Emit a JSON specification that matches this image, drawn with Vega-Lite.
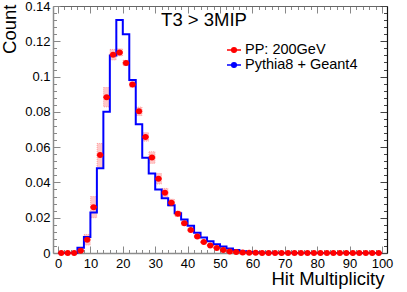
{
  "$schema": "https://vega.github.io/schema/vega-lite/v6.json",
  "width": 334,
  "height": 247,
  "autosize": "none",
  "padding": {"left": 53, "top": 6, "right": 20, "bottom": 39},
  "background": "white",
  "title": {"text": "T3 > 3MIP", "orient": "top", "anchor": "middle", "frame": "group", "offset": -44, "baseline": "alphabetic", "dx": -16, "font": "Liberation Sans", "fontSize": 18.5, "fontWeight": "normal", "color": "black"},
  "config": {
    "view": {"stroke": null},
    "axis": {"grid": false, "labelFont": "Liberation Sans", "titleFont": "Liberation Sans", "labelColor": "black", "titleColor": "black", "tickColor": "#888", "domainColor": "#8c8c8c", "domainWidth": 1.5, "titleFontWeight": "normal"}
  },
  "datasets": {
    "mc": [
      {"x": 0, "y": 0}, {"x": 2, "y": 0}, {"x": 4, "y": 0}, {"x": 6, "y": 0.003}, {"x": 8, "y": 0.009},
      {"x": 10, "y": 0.023}, {"x": 12, "y": 0.048}, {"x": 14, "y": 0.080}, {"x": 16, "y": 0.112}, {"x": 18, "y": 0.132},
      {"x": 20, "y": 0.124}, {"x": 22, "y": 0.098}, {"x": 24, "y": 0.073}, {"x": 26, "y": 0.054}, {"x": 28, "y": 0.045},
      {"x": 30, "y": 0.036}, {"x": 32, "y": 0.031}, {"x": 34, "y": 0.027}, {"x": 36, "y": 0.0225}, {"x": 38, "y": 0.019},
      {"x": 40, "y": 0.0155}, {"x": 42, "y": 0.0115}, {"x": 44, "y": 0.0088}, {"x": 46, "y": 0.0066}, {"x": 48, "y": 0.005},
      {"x": 50, "y": 0.0037}, {"x": 52, "y": 0.0026}, {"x": 54, "y": 0.0017}, {"x": 56, "y": 0.001}, {"x": 58, "y": 0.0006},
      {"x": 60, "y": 0.0004}, {"x": 62, "y": 0.0002}, {"x": 64, "y": 0.0001}, {"x": 66, "y": 0}, {"x": 68, "y": 0},
      {"x": 70, "y": 0}, {"x": 72, "y": 0}, {"x": 74, "y": 0}, {"x": 76, "y": 0}, {"x": 78, "y": 0},
      {"x": 80, "y": 0}, {"x": 82, "y": 0}, {"x": 84, "y": 0}, {"x": 86, "y": 0}, {"x": 88, "y": 0},
      {"x": 90, "y": 0}, {"x": 92, "y": 0}, {"x": 94, "y": 0}, {"x": 96, "y": 0}, {"x": 98, "y": 0},
      {"x": 100, "y": 0}
    ],
    "pp": [
      {"x": 1, "y": 0, "lo": 0, "hi": 0},
      {"x": 3, "y": 0, "lo": 0, "hi": 0},
      {"x": 5, "y": 0, "lo": 0, "hi": 0},
      {"x": 7, "y": 0.0013, "lo": 0.0005, "hi": 0.0021},
      {"x": 9, "y": 0.0075, "lo": 0.0045, "hi": 0.0105},
      {"x": 11, "y": 0.026, "lo": 0.020, "hi": 0.032},
      {"x": 13, "y": 0.0555, "lo": 0.0489, "hi": 0.0621},
      {"x": 15, "y": 0.0883, "lo": 0.0828, "hi": 0.0938},
      {"x": 17, "y": 0.1124, "lo": 0.1094, "hi": 0.1154},
      {"x": 19, "y": 0.1137, "lo": 0.1117, "hi": 0.1157},
      {"x": 21, "y": 0.1077, "lo": 0.1062, "hi": 0.1092},
      {"x": 23, "y": 0.0955, "lo": 0.094, "hi": 0.097},
      {"x": 25, "y": 0.0803, "lo": 0.0779, "hi": 0.0827},
      {"x": 27, "y": 0.0658, "lo": 0.0634, "hi": 0.0682},
      {"x": 29, "y": 0.0541, "lo": 0.0508, "hi": 0.0574},
      {"x": 31, "y": 0.0421, "lo": 0.0391, "hi": 0.0451},
      {"x": 33, "y": 0.0342, "lo": 0.0318, "hi": 0.0366},
      {"x": 35, "y": 0.0285, "lo": 0.0265, "hi": 0.0305},
      {"x": 37, "y": 0.0222, "lo": 0.0207, "hi": 0.0237},
      {"x": 39, "y": 0.0169, "lo": 0.0157, "hi": 0.0181},
      {"x": 41, "y": 0.013, "lo": 0.012, "hi": 0.014},
      {"x": 43, "y": 0.0094, "lo": 0.0086, "hi": 0.0102},
      {"x": 45, "y": 0.0062, "lo": 0.0056, "hi": 0.0068},
      {"x": 47, "y": 0.0043, "lo": 0.0038, "hi": 0.0048},
      {"x": 49, "y": 0.0029, "lo": 0.0025, "hi": 0.0033},
      {"x": 51, "y": 0.0017, "lo": 0.0014, "hi": 0.002},
      {"x": 53, "y": 0.0009, "lo": 0.0007, "hi": 0.0011},
      {"x": 55, "y": 0.0005, "lo": 0.0004, "hi": 0.0006},
      {"x": 57, "y": 0.0003, "lo": 0.0002, "hi": 0.0004},
      {"x": 59, "y": 0.0002, "lo": 0.0001, "hi": 0.0003},
      {"x": 61, "y": 0.0001, "lo": 0.0001, "hi": 0.0001},
      {"x": 63, "y": 0, "lo": 0, "hi": 0},
      {"x": 65, "y": 0, "lo": 0, "hi": 0},
      {"x": 67, "y": 0, "lo": 0, "hi": 0},
      {"x": 69, "y": 0, "lo": 0, "hi": 0},
      {"x": 71, "y": 0, "lo": 0, "hi": 0},
      {"x": 73, "y": 0, "lo": 0, "hi": 0},
      {"x": 75, "y": 0, "lo": 0, "hi": 0},
      {"x": 77, "y": 0, "lo": 0, "hi": 0},
      {"x": 79, "y": 0, "lo": 0, "hi": 0},
      {"x": 81, "y": 0, "lo": 0, "hi": 0},
      {"x": 83, "y": 0, "lo": 0, "hi": 0},
      {"x": 85, "y": 0, "lo": 0, "hi": 0},
      {"x": 87, "y": 0, "lo": 0, "hi": 0},
      {"x": 89, "y": 0, "lo": 0, "hi": 0},
      {"x": 91, "y": 0, "lo": 0, "hi": 0},
      {"x": 93, "y": 0, "lo": 0, "hi": 0},
      {"x": 95, "y": 0, "lo": 0, "hi": 0},
      {"x": 97, "y": 0, "lo": 0, "hi": 0},
      {"x": 99, "y": 0, "lo": 0, "hi": 0}
    ]
  },
  "resolve": {"axis": {"x": "independent", "y": "independent"}},
  "layer": [
    {
      "data": {"name": "pp"},
      "mark": {"type": "bar", "width": 6, "fill": "#ff9a9a", "fillOpacity": 0.55, "stroke": "#ff7070", "strokeWidth": 0.8, "strokeDash": [1, 1], "strokeOpacity": 0.7},
      "encoding": {
        "x": {"field": "x", "type": "quantitative", "scale": {"domain": [0, 100], "nice": false},
              "axis": {"orient": "bottom", "values": [0,10,20,30,40,50,60,70,80,90,100], "ticks": false, "domain": false, "labelPadding": 4, "labelFontSize": 13, "labelBaseline": "top", "labelFlush": false,
                       "title": "Hit Multiplicity", "titleFontSize": 18.5, "titleAlign": "right", "titleBaseline": "alphabetic", "titleX": 331, "titleY": 31, "titleAnchor": "end"}},
        "y": {"field": "lo", "type": "quantitative", "scale": {"domain": [0, 0.14], "nice": false},
              "axis": {"orient": "left", "values": [0,0.02,0.04,0.06,0.08,0.1,0.12,0.14], "format": "~g", "ticks": false, "domain": false, "labelPadding": 3, "labelFontSize": 13, "labelFlush": false,
                       "title": "Count", "titleFontSize": 18.5, "titleAngle": -90, "titleAlign": "right", "titleBaseline": "alphabetic", "titleX": -38, "titleY": -2, "titleAnchor": "end"}},
        "y2": {"field": "hi"}
      }
    },
    {
      "data": {"name": "mc"},
      "mark": {"type": "line", "interpolate": "step-after", "strokeWidth": 2},
      "encoding": {
        "x": {"field": "x", "type": "quantitative", "scale": {"domain": [0, 100], "nice": false},
              "axis": {"orient": "bottom", "values": [0,2,4,6,8,10,12,14,16,18,20,22,24,26,28,30,32,34,36,38,40,42,44,46,48,50,52,54,56,58,60,62,64,66,68,70,72,74,76,78,80,82,84,86,88,90,92,94,96,98,100],
                       "labels": false, "domain": true, "title": null,
                       "tickSize": {"condition": {"test": "datum.value % 10 === 0", "value": -7}, "value": -3.5}}},
        "y": {"field": "y", "type": "quantitative", "scale": {"domain": [0, 0.14], "nice": false},
              "axis": {"orient": "left", "values": [0,0.004,0.008,0.012,0.016,0.02,0.024,0.028,0.032,0.036,0.04,0.044,0.048,0.052,0.056,0.06,0.064,0.068,0.072,0.076,0.08,0.084,0.088,0.092,0.096,0.1,0.104,0.108,0.112,0.116,0.12,0.124,0.128,0.132,0.136,0.14],
                       "labels": false, "domain": true, "title": null,
                       "tickSize": {"condition": {"test": "abs(datum.value * 50 - round(datum.value * 50)) < 0.001", "value": -7}, "value": -3.5}}},
        "color": {"datum": "Pythia8 + Geant4", "type": "nominal",
                  "scale": {"domain": ["PP: 200GeV", "Pythia8 + Geant4"], "range": ["#ff0000", "#0000ff"]},
                  "legend": {"orient": "none", "legendX": 173, "legendY": 37.5, "title": null, "padding": 0, "rowPadding": 0, "clipHeight": 13, "labelFont": "Liberation Sans", "labelFontSize": 14.5, "labelColor": "black", "labelOffset": 3,
                             "symbolType": "M-1,0L1,0M-0.33,0A0.33,0.33,0,1,1,0.33,0A0.33,0.33,0,1,1,-0.33,0Z", "symbolSize": 196, "symbolStrokeWidth": 1.5,
                             "encoding": {"symbols": {"update": {"stroke": {"field": "value", "scale": "color"}, "fill": {"field": "value", "scale": "color"}, "strokeWidth": {"value": 1.5}, "opacity": {"value": 1}}}}}}
      }
    },
    {
      "data": {"name": "pp"},
      "mark": {"type": "tick", "orient": "horizontal", "size": 6.7, "thickness": 2, "color": "#ff0000"},
      "encoding": {
        "x": {"field": "x", "type": "quantitative", "scale": {"domain": [0, 100], "nice": false},
              "axis": {"orient": "top", "values": [0,2,4,6,8,10,12,14,16,18,20,22,24,26,28,30,32,34,36,38,40,42,44,46,48,50,52,54,56,58,60,62,64,66,68,70,72,74,76,78,80,82,84,86,88,90,92,94,96,98,100],
                       "labels": false, "domain": true, "domainColor": "#666", "domainWidth": 1.2, "title": null,
                       "tickSize": {"condition": {"test": "datum.value % 10 === 0", "value": -7}, "value": -3.5}}},
        "y": {"field": "y", "type": "quantitative", "scale": {"domain": [0, 0.14], "nice": false},
              "axis": {"orient": "right", "values": [0,0.004,0.008,0.012,0.016,0.02,0.024,0.028,0.032,0.036,0.04,0.044,0.048,0.052,0.056,0.06,0.064,0.068,0.072,0.076,0.08,0.084,0.088,0.092,0.096,0.1,0.104,0.108,0.112,0.116,0.12,0.124,0.128,0.132,0.136,0.14],
                       "labels": false, "domain": true, "domainColor": "#111", "domainWidth": 1.2, "tickColor": "#444", "title": null,
                       "tickSize": {"condition": {"test": "abs(datum.value * 50 - round(datum.value * 50)) < 0.001", "value": -7}, "value": -3.5}}}
      }
    },
    {
      "data": {"name": "pp"},
      "mark": {"type": "circle", "size": 36, "opacity": 1},
      "encoding": {
        "x": {"field": "x", "type": "quantitative", "scale": {"domain": [0, 100], "nice": false}, "axis": null},
        "y": {"field": "y", "type": "quantitative", "scale": {"domain": [0, 0.14], "nice": false}, "axis": null},
        "color": {"datum": "PP: 200GeV", "type": "nominal"}
      }
    }
  ]
}
